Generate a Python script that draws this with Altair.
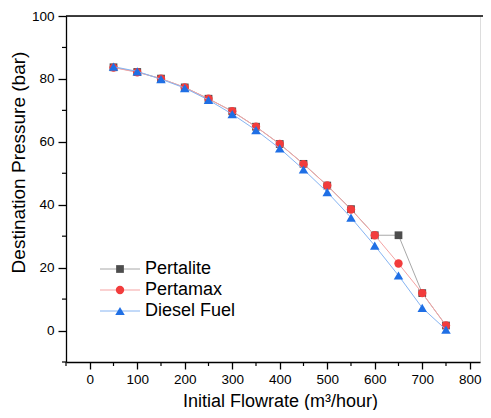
import altair as alt
import pandas as pd

flow = [50, 100, 150, 200, 250, 300, 350, 400, 450, 500, 550, 600, 650, 700, 750]
pertalite = [83.7, 82.2, 80.1, 77.3, 73.7, 69.7, 64.8, 59.3, 53.0, 46.1, 38.6, 30.3, 30.3, 11.9, 1.6]
pertamax = [83.6, 82.1, 80.1, 77.3, 73.7, 69.7, 64.8, 59.3, 52.9, 46.1, 38.5, 30.3, 21.3, 11.9, 1.6]
diesel = [83.9, 82.4, 79.9, 77.1, 73.3, 68.8, 63.7, 57.9, 51.2, 44.0, 35.9, 27.0, 17.5, 7.2, 0.3]

series_names = ["Pertalite", "Pertamax", "Diesel Fuel"]
line_colors = ["#a8a8a8", "#f5a3a3", "#86b4f2"]
marker_colors = ["#4d4d4d", "#f23c3c", "#1f6fe5"]
shapes = ["square", "circle", "triangle-up"]
sizes = [60, 70, 90]

x_major = [0, 100, 200, 300, 400, 500, 600, 700, 800]
x_minor = [-50, 50, 150, 250, 350, 450, 550, 650, 750]
y_major = [0, 20, 40, 60, 80, 100]
y_minor = [-10, 10, 30, 50, 70, 90]

W, H = 414, 346
FONT = "Liberation Sans"

xs = alt.Scale(domain=[-50, 821.6], nice=False, zero=False)
ys = alt.Scale(domain=[-10, 100], nice=False, zero=False)

layers = []
for i, (name, vals) in enumerate(zip(series_names, [pertalite, pertamax, diesel])):
    df = pd.DataFrame({"flow": flow, "p": vals, "s": name})
    base = alt.Chart(df)
    if i == 0:
        xenc = alt.X("flow:Q", scale=xs, axis=alt.Axis(
            values=x_major, title="Initial Flowrate (m³/hour)", grid=False,
            tickSize=7, tickColor="black", domainColor="black", domainWidth=1.3,
            tickWidth=1.3, labelFontSize=13.5, labelColor="black", labelFont=FONT,
            labelPadding=3, titleFont=FONT, titleFontSize=18, titleFontWeight="normal",
            titleColor="black", titleX=214, titleY=39, titleAlign="center",
            titleBaseline="middle"))
        yenc = alt.Y("p:Q", scale=ys, axis=alt.Axis(
            values=y_major, title="Destination Pressure (bar)", grid=False,
            tickSize=8, tickColor="black", domainColor="black", domainWidth=1.3,
            tickWidth=1.3, labelFontSize=13.5, labelColor="black", labelFont=FONT,
            labelPadding=4, titleFont=FONT, titleFontSize=19, titleFontWeight="normal",
            titleColor="black", titleX=-48, titleY=146, titleAngle=270,
            titleAlign="center", titleBaseline="middle"))
    else:
        xenc = alt.X("flow:Q", scale=xs)
        yenc = alt.Y("p:Q", scale=ys)
    layers.append(base.mark_line(color=line_colors[i], strokeWidth=1).encode(x=xenc, y=yenc))
    layers.append(base.mark_point(shape=shapes[i], filled=True, opacity=1,
                                  color=marker_colors[i], size=sizes[i]).encode(
        x=alt.X("flow:Q", scale=xs), y=alt.Y("p:Q", scale=ys)))

# minor ticks
xm = pd.DataFrame({"v": x_minor})
layers.append(alt.Chart(xm).mark_rule(color="black", strokeWidth=1.2).encode(
    x=alt.X("v:Q", scale=xs), y=alt.value(H), y2=alt.value(H + 4)))
ym = pd.DataFrame({"v": y_minor})
layers.append(alt.Chart(ym).mark_rule(color="black", strokeWidth=1.2).encode(
    y=alt.Y("v:Q", scale=ys), x=alt.value(0), x2=alt.value(-4)))

# top frame line
layers.append(alt.Chart(pd.DataFrame({"a": [0]})).mark_rule(color="black", strokeWidth=1.3).encode(
    x=alt.value(0), x2=alt.value(W + 3), y=alt.value(0)))

# manual legend
for i, name in enumerate(series_names):
    ly = 253 + 21 * i
    ldf = pd.DataFrame({"s": [name]})
    lb = alt.Chart(ldf)
    layers.append(lb.mark_rule(color=line_colors[i], strokeWidth=1).encode(
        x=alt.value(34), x2=alt.value(74), y=alt.value(ly)))
    layers.append(lb.mark_point(shape=shapes[i], filled=True, opacity=1,
                                color=marker_colors[i], size=sizes[i]).encode(
        x=alt.value(54), y=alt.value(ly)))
    layers.append(lb.mark_text(align="left", baseline="middle", font=FONT, fontSize=18,
                               color="black").encode(
        x=alt.value(79), y=alt.value(ly), text="s:N"))

chart = alt.layer(*layers).properties(
    width=W, height=H,
    autosize=alt.AutoSizeParams(type="none"),
    padding={"left": 58, "top": 8, "right": 3, "bottom": 48},
).configure_view(stroke=None).configure(background="white")

chart.save("out.html", embed_options={"renderer": "svg", "actions": False})
